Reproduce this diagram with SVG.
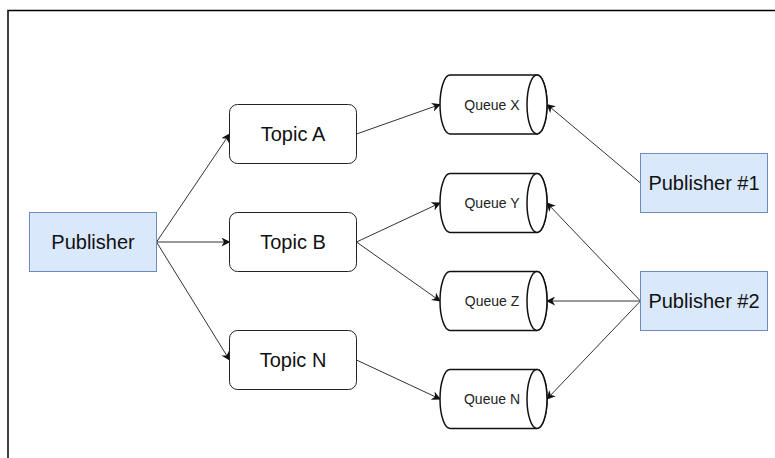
<svg xmlns="http://www.w3.org/2000/svg" width="775" height="458" viewBox="0 0 775 458">
  <defs>
    <marker id="arrow" viewBox="0 0 10 10" refX="9" refY="5" markerWidth="9" markerHeight="9" markerUnits="userSpaceOnUse" orient="auto">
      <path d="M0,0 L10,5 L0,10 L3,5 Z" fill="#111"/>
    </marker>
    <style>
      .frame { fill: none; stroke: #000; stroke-width: 1.5; }
      .pub { fill: #dae8fc; stroke: #6c8ebf; stroke-width: 1; }
      .topic { fill: #fff; stroke: #222; stroke-width: 1; }
      .queue { fill: #fff; stroke: #111; stroke-width: 1.5; }
      .label { font-family: "Liberation Sans", Arial, sans-serif; font-size: 20px; fill: #111; text-anchor: middle; dominant-baseline: central; }
      .qlabel { font-family: "Liberation Sans", Arial, sans-serif; font-size: 14px; fill: #222; text-anchor: middle; dominant-baseline: central; }
      .edge { fill: none; stroke: #333; stroke-width: 1; marker-end: url(#arrow); }
    </style>
  </defs>

  <rect width="775" height="458" fill="#fff"/>
  <!-- page frame (top and left edges) -->
  <path class="frame" d="M8,460 L8,10.5 L777,10.5"/>

  <!-- connectors -->
  <g id="connectors">
    <path class="edge" d="M156.5,242 L229.5,134"/>
    <path class="edge" d="M156.5,242 L229.5,242"/>
    <path class="edge" d="M156.5,242 L229.5,360"/>
    <path class="edge" d="M356.5,134 L440,104.5"/>
    <path class="edge" d="M356.5,242 L440,203"/>
    <path class="edge" d="M356.5,242 L440,301"/>
    <path class="edge" d="M356.5,360 L440,399"/>
    <path class="edge" d="M640.5,183 L547,104.5"/>
    <path class="edge" d="M640.5,301 L547,203"/>
    <path class="edge" d="M640.5,301 L547,301"/>
    <path class="edge" d="M640.5,301 L547,399"/>
  </g>

  <!-- publishers -->
  <g id="publisher">
    <rect class="pub" x="29.5" y="212.5" width="127" height="59"/>
    <text class="label" x="93" y="242">Publisher</text>
  </g>
  <g id="publisher-1">
    <rect class="pub" x="640.5" y="153.5" width="127" height="59"/>
    <text class="label" x="704" y="183">Publisher #1</text>
  </g>
  <g id="publisher-2">
    <rect class="pub" x="640.5" y="271.5" width="127" height="59"/>
    <text class="label" x="704" y="301">Publisher #2</text>
  </g>

  <!-- topics -->
  <g id="topic-a">
    <rect class="topic" x="229.5" y="104.5" width="127" height="59" rx="8"/>
    <text class="label" x="293" y="134">Topic A</text>
  </g>
  <g id="topic-b">
    <rect class="topic" x="229.5" y="212.5" width="127" height="59" rx="8"/>
    <text class="label" x="293" y="242">Topic B</text>
  </g>
  <g id="topic-n">
    <rect class="topic" x="229.5" y="330.5" width="127" height="59" rx="8"/>
    <text class="label" x="293" y="360">Topic N</text>
  </g>

  <!-- queues: horizontal cylinders, body from x=440 to x=547 -->
  <g id="queue-x">
    <path class="queue" d="M450,75 L537,75 A10,29.5 0 0 1 537,134 L450,134 A10,29.5 0 0 1 450,75 Z"/>
    <ellipse class="queue" cx="537" cy="104.5" rx="10" ry="29.5"/>
    <text class="qlabel" x="492" y="104.5">Queue X</text>
  </g>
  <g id="queue-y">
    <path class="queue" d="M450,173.5 L537,173.5 A10,29.5 0 0 1 537,232.5 L450,232.5 A10,29.5 0 0 1 450,173.5 Z"/>
    <ellipse class="queue" cx="537" cy="203" rx="10" ry="29.5"/>
    <text class="qlabel" x="492" y="203">Queue Y</text>
  </g>
  <g id="queue-z">
    <path class="queue" d="M450,271.5 L537,271.5 A10,29.5 0 0 1 537,330.5 L450,330.5 A10,29.5 0 0 1 450,271.5 Z"/>
    <ellipse class="queue" cx="537" cy="301" rx="10" ry="29.5"/>
    <text class="qlabel" x="492" y="301">Queue Z</text>
  </g>
  <g id="queue-n">
    <path class="queue" d="M450,369.5 L537,369.5 A10,29.5 0 0 1 537,428.5 L450,428.5 A10,29.5 0 0 1 450,369.5 Z"/>
    <ellipse class="queue" cx="537" cy="399" rx="10" ry="29.5"/>
    <text class="qlabel" x="492" y="399">Queue N</text>
  </g>
</svg>
